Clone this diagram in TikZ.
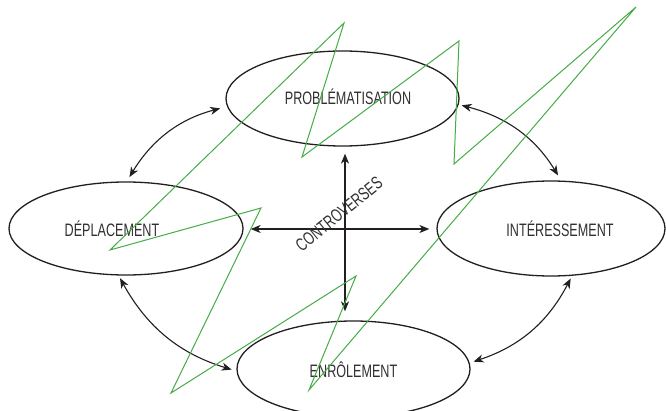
\documentclass[tikz,border=0pt]{standalone}
\usepackage{fontspec}
\newfontfamily\condfont[FakeStretch=0.70]{Liberation Sans}
\usetikzlibrary{shapes.geometric,arrows.meta}
\definecolor{ink}{RGB}{35,31,32}
\definecolor{txt}{RGB}{50,47,48}
\definecolor{grn}{RGB}{70,172,70}
\begin{document}
\begin{tikzpicture}[x=1pt,y=1pt,
  stage/.style={ellipse, draw=ink, line width=1.3pt, inner sep=0pt},
  stagetext/.style={font=\condfont\fontsize{18}{18}\selectfont, text=txt, inner sep=0pt},
  link/.style={{Stealth[length=10pt,width=8pt,inset=3pt]}-{Stealth[length=10pt,width=8pt,inset=3pt]}, line width=1.1pt, draw=ink},
  zig/.style={draw=grn, line width=1pt, line join=miter}]
\fill[white] (0,0) rectangle (666,410);
\useasboundingbox (0,0) rectangle (666,410);
\clip (0,0) rectangle (666,410);

% the four stages of translation
\node[stage, minimum width=233pt, minimum height=95pt] (prob) at (342.5,311.5) {};
\node[stage, minimum width=234pt, minimum height=93pt] (depl) at (126,181.5) {};
\node[stage, minimum width=228pt, minimum height=95pt] (inter) at (551,181.5) {};
\node[stage, minimum width=233pt, minimum height=96pt] (enrol) at (353.5,41) {};

\node[stagetext] (probt) at ([xshift=5.5pt,yshift=2pt]prob.center) {PROBLÉMATISATION};
\node[stagetext] (deplt) at ([xshift=-14pt]depl.center) {DÉPLACEMENT};
\node[stagetext] (intert) at ([xshift=9pt]inter.center) {INTÉRESSEMENT};
\node[stagetext] (enrolt) at ([yshift=-1pt]enrol.center) {ENRÔLEMENT};

% curved links between neighbouring stages
\draw[link, shorten <=7pt, shorten >=5pt] (prob.184) to[bend right=22] (depl.89);
\draw[link, shorten <=3pt, shorten >=6pt] (prob.357) to[bend left=22] (inter.78);
\draw[link, shorten <=3pt, shorten >=5pt] (depl.261) to[bend right=22] (enrol.181);
\draw[link, shorten <=3pt, shorten >=4pt] (inter.294) to[bend left=22] (enrol.3);

% central cross of controversies
\coordinate (cross) at (345,181);
\draw[link] ([yshift=-7pt]cross |- prob.south) -- ([yshift=9pt]cross |- enrol.north);
\draw[link] ([xshift=7pt]depl.east |- cross) -- ([xshift=-7pt]inter.west |- cross);
\node[stagetext, rotate=39] (contro) at (339,196) {CONTROVERSES};

% green zigzag stroke over everything
\draw[zig] (110,160) -- (344,387) -- (302,253) -- (459,369) -- (454,246)
  -- (636,403) -- (309,20) -- (356,134) -- (171,17) -- (261,202) -- cycle;
\end{tikzpicture}
\end{document}
